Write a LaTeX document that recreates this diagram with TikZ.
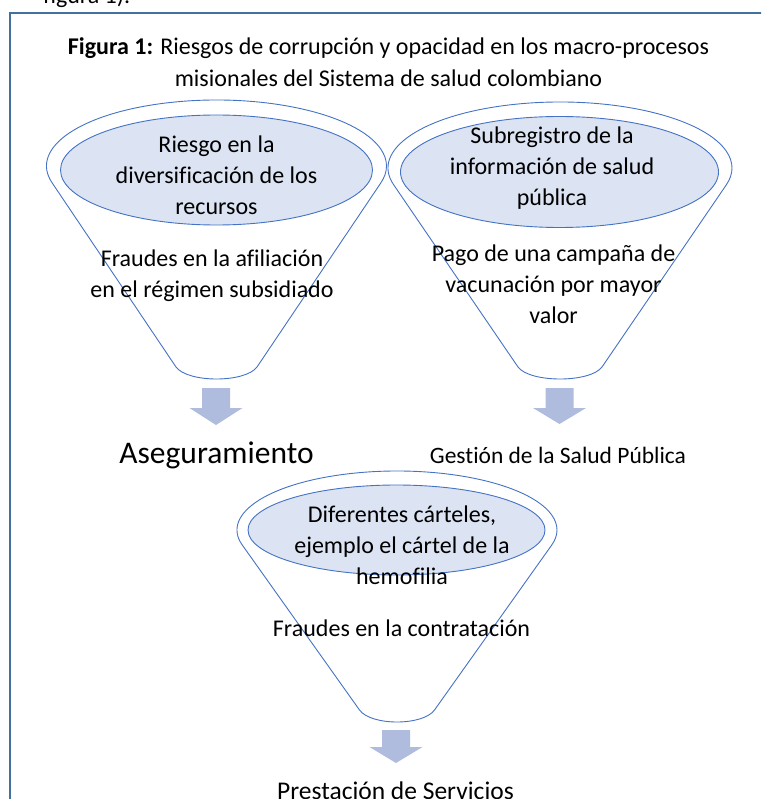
\documentclass[tikz,border=0pt]{standalone}
\usepackage{fontspec}
\setmainfont{Carlito}[Ligatures=NoCommon]
\definecolor{funnelblue}{RGB}{68,114,196}
\definecolor{ellfill}{RGB}{220,227,242}
\definecolor{arrowfill}{RGB}{176,188,222}
\definecolor{framebl}{RGB}{65,113,156}
\usetikzlibrary{shapes.geometric, calc}

\begin{document}
\begin{tikzpicture}[
  x=1pt, y=1pt,
  funnel/.style={draw=funnelblue, line width=0.9pt, line join=round},
  inner/.style={ellipse, draw=funnelblue, line width=0.9pt, fill=ellfill, inner sep=0pt},
  txt/.style={align=center, inner sep=0pt, font={\fontsize{24}{31}\selectfont}},
  blockarrow/.style={fill=arrowfill},
]
  \useasboundingbox (0,0) rectangle (761,-799);
  \clip (0,0) rectangle (761,-799);

  % Frame and text above it
  \draw[draw=framebl, line width=2pt] (10,-800) -- (10,-13) -- (762,-13);
  \node[txt, anchor=base west] (prev) at (43,-4) {figura 1).};
  \node[txt, font={\fontsize{24}{31.5}\selectfont}] (title) at (388.5,-62)
    {\textbf{Figura 1:} Riesgos de corrupción y opacidad en los macro-procesos\\misionales del Sistema de salud colombiano};

  % Funnel outlines
  \coordinate (c1) at (216.5,-166);
  \coordinate (c2) at (560,-168);
  \coordinate (c3) at (397,-530);
  \draw[funnel] ($(c1)+(195:170 and 66)$) arc[start angle=195, end angle=-15, x radius=170, y radius=66]
    -- (257,-367) .. controls (245,-383) and (188,-383) .. (176,-367) -- cycle;
  \draw[funnel] ($(c2)+(195:172 and 66)$) arc[start angle=195, end angle=-15, x radius=172, y radius=66]
    -- (602,-367) .. controls (590,-383) and (530,-383) .. (518,-367) -- cycle;
  \draw[funnel] ($(c3)+(195:160 and 59)$) arc[start angle=195, end angle=-15, x radius=160, y radius=59]
    -- (434.5,-710) .. controls (423,-726) and (371,-726) .. (359.5,-710) -- cycle;

  % Inner ellipses
  \node[inner, minimum width=312pt, minimum height=110pt] (e1) at (216.5,-170) {};
  \node[inner, minimum width=318pt, minimum height=111pt] (e2) at (559.5,-172) {};
  \node[inner, minimum width=297pt, minimum height=90pt] (e3) at (396.5,-530) {};

  % Texts
  \node[txt] (r1) at (216.5,-175) {Riesgo en la\\diversificación de los\\recursos};
  \node[txt] (f1) at (212,-276) {Fraudes en la afiliación\\en el régimen subsidiado};
  \node[txt] (r2) at (552,-168) {Subregistro de la\\información de salud\\pública};
  \node[txt] (f2) at (553.5,-284) {Pago de una campaña de\\vacunación por mayor\\valor};
  \node[txt] (r3) at (402,-545) {Diferentes cárteles,\\ejemplo el cártel de la\\hemofilia};
  \node[txt] (f3) at (401.5,-628) {Fraudes en la contratación};

  % Process labels
  \node[txt, font={\fontsize{31.5}{36}\selectfont}] (aseg) at (216.5,-455) {Aseguramiento};
  \node[txt, font={\fontsize{23.5}{27}\selectfont}] (gest) at (558,-455) {Gestión de la Salud Pública};
  \node[txt, anchor=base, font={\fontsize{25.5}{31}\selectfont}] (prest) at (395.5,-799) {Prestación de Servicios};

  % Block arrows
  \foreach \ax/\ay/\al/\hl in {216/388/37/17, 559.5/388/36/16, 396/730/33/16}
    \fill[blockarrow] (\ax-14,-\ay) -- (\ax+14,-\ay) -- (\ax+14,-\ay-\al+\hl) -- (\ax+26.5,-\ay-\al+\hl)
      -- (\ax,-\ay-\al) -- (\ax-26.5,-\ay-\al+\hl) -- (\ax-14,-\ay-\al+\hl) -- cycle;
\end{tikzpicture}
\end{document}
